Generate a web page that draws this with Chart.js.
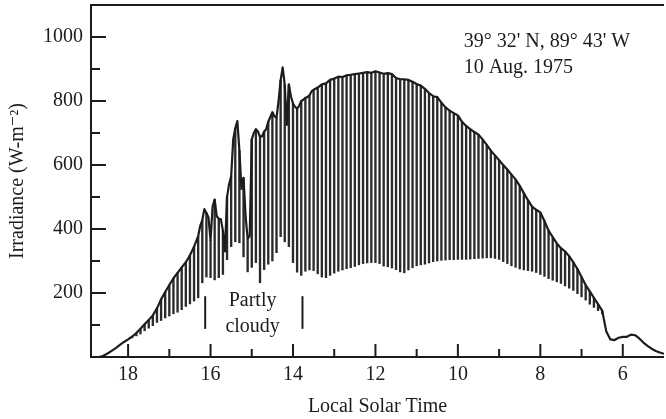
<!DOCTYPE html>
<html>
<head>
<meta charset="utf-8">
<script src="https://cdn.jsdelivr.net/npm/chart.js@4.4.1/dist/chart.umd.min.js"></script>
<style>
  html, body { margin: 0; padding: 0; background: #fff; }
</style>
</head>
<body>
<canvas id="irradiance" width="666" height="419"></canvas>
<script>
// upper envelope of the record (local solar time, W/m2), finer steps in the cloudy part
const envTime = [
  18.7, 18.6, 18.5, 18.4, 18.3, 18.2, 18.1, 18.0, 17.9, 17.8,
  17.7, 17.6, 17.5, 17.4, 17.3, 17.2, 17.1, 17.0, 16.9, 16.8,
  16.7, 16.6, 16.5, 16.4, 16.3, 16.25, 16.2, 16.15, 16.1, 16.05,
  16.0, 15.95, 15.9, 15.85, 15.8, 15.75, 15.7, 15.65, 15.6, 15.55,
  15.5, 15.45, 15.4, 15.35, 15.3, 15.25, 15.2, 15.15, 15.1, 15.05,
  15.0, 14.95, 14.9, 14.85, 14.8, 14.75, 14.7, 14.65, 14.6, 14.55,
  14.5, 14.45, 14.4, 14.35, 14.3, 14.25, 14.2, 14.15, 14.1, 14.05,
  14.0, 13.95, 13.9, 13.85, 13.8, 13.75, 13.7, 13.65, 13.6, 13.55,
  13.5, 13.4, 13.3, 13.2, 13.1, 13.0, 12.9, 12.8, 12.7, 12.6,
  12.5, 12.4, 12.3, 12.2, 12.1, 12.0, 11.9, 11.8, 11.7, 11.6,
  11.5, 11.4, 11.3, 11.2, 11.1, 11.0, 10.9, 10.8, 10.7, 10.6,
  10.5, 10.4, 10.3, 10.2, 10.1, 10.0, 9.9, 9.8, 9.7, 9.6,
  9.5, 9.4, 9.3, 9.2, 9.1, 9.0, 8.9, 8.8, 8.7, 8.6,
  8.5, 8.4, 8.3, 8.2, 8.1, 8.0, 7.9, 7.8, 7.7, 7.6,
  7.5, 7.4, 7.3, 7.2, 7.1, 7.0, 6.9, 6.8, 6.7, 6.6,
  6.5, 6.4, 6.3, 6.2, 6.1, 6.0, 5.9, 5.8, 5.7, 5.6,
  5.5, 5.4, 5.3, 5.2, 5.1, 5.0
];
const envHigh = [
  0, 4, 11, 19, 28, 38, 47, 55, 64, 75,
  88, 102, 116, 130, 152, 180, 203, 225, 246, 263,
  280, 296, 318, 345, 378, 410, 428, 462, 450, 436,
  365, 470, 492, 440, 432, 430, 395, 330, 500, 540,
  565, 680, 715, 737, 645, 525, 560, 440, 370, 378,
  680, 700, 712, 705, 688, 690, 705, 712, 735, 750,
  765, 752, 748, 800, 865, 905, 850, 725, 852, 815,
  792, 782, 776, 785, 800, 804, 810, 812, 818, 830,
  835, 842, 852, 855, 866, 870, 876, 875, 880, 882,
  884, 886, 888, 890, 888, 893, 889, 885, 887, 884,
  872, 868, 868, 866, 860, 853, 848, 838, 825, 815,
  812, 795, 780, 770, 762, 755, 735, 722, 712, 703,
  695, 680, 663, 645, 630, 615, 600, 586, 570, 555,
  535, 512, 490, 470, 460, 452, 425, 395, 375, 355,
  340, 330, 315, 296, 275, 250, 225, 205, 185, 165,
  145, 80, 55, 53, 60, 63, 63, 70, 68, 58,
  45, 35, 26, 19, 14, 10
];

// hatch strokes: bottom end of each trace line
const hatchTime = [
  17.9, 17.8, 17.7, 17.6, 17.5, 17.4, 17.3, 17.2, 17.1, 17.0,
  16.9, 16.8, 16.7, 16.6, 16.5, 16.4, 16.3, 16.2, 16.1, 16.0,
  15.9, 15.8, 15.7, 15.6, 15.5, 15.4, 15.3, 15.2, 15.1, 15.0,
  14.9, 14.8, 14.7, 14.6, 14.5, 14.4, 14.3, 14.2, 14.1, 14.0,
  13.9, 13.8, 13.7, 13.6, 13.5, 13.4, 13.3, 13.2, 13.1, 13.0,
  12.9, 12.8, 12.7, 12.6, 12.5, 12.4, 12.3, 12.2, 12.1, 12.0,
  11.9, 11.8, 11.7, 11.6, 11.5, 11.4, 11.3, 11.2, 11.1, 11.0,
  10.9, 10.8, 10.7, 10.6, 10.5, 10.4, 10.3, 10.2, 10.1, 10.0,
  9.9, 9.8, 9.7, 9.6, 9.5, 9.4, 9.3, 9.2, 9.1, 9.0,
  8.9, 8.8, 8.7, 8.6, 8.5, 8.4, 8.3, 8.2, 8.1, 8.0,
  7.9, 7.8, 7.7, 7.6, 7.5, 7.4, 7.3, 7.2, 7.1, 7.0,
  6.9, 6.8, 6.7, 6.6, 6.5
];
const hatchLow = [
  60, 66, 72, 82, 90, 98, 108, 114, 122, 128,
  135, 140, 148, 158, 166, 175, 185, 232, 250, 248,
  241, 248, 258, 304, 345, 360, 357, 313, 266, 280,
  295, 232, 273, 290, 300, 326, 376, 360, 345, 295,
  265, 255, 268, 272, 270, 260, 250, 248, 255, 262,
  268, 272, 276, 279, 283, 288, 292, 294, 295, 295,
  292, 284, 282, 278, 273, 266, 263, 272, 279, 285,
  288, 290, 294, 298, 300, 302, 303, 304, 304, 305,
  305, 305, 306, 307, 308, 309, 310, 310, 308, 305,
  298, 292, 285, 280, 275, 272, 270, 268, 264, 258,
  252, 245, 240, 235, 230, 222, 215, 208, 198, 188,
  178, 165, 155, 145, 135
];

// the two bars that bracket the "Partly cloudy" note
const cloudMarkTime = [16.13, 13.77];
const cloudMarkRange = [88, 190];

const xTickLabels = [18, 16, 14, 12, 10, 8, 6];
const yTickLabels = [200, 400, 600, 800, 1000];

const inkColor = '#1c1c1c';
const serif = '"Liberation Serif", "DejaVu Serif", serif';

Chart.defaults.font.family = serif;
Chart.defaults.font.size = 20;
Chart.defaults.color = inkColor;

const hatchData = hatchTime.map((t, i) => {
    const k = envTime.findIndex(e => Math.abs(e - t) < 1e-6);
    return { x: t, y: [hatchLow[i], envHigh[k]] };
});
const envData = envTime.map((t, i) => ({ x: t, y: envHigh[i] }));
const markSets = cloudMarkTime.map(t => ({
    type: 'line',
    data: cloudMarkRange.map(v => ({ x: t, y: v })),
    borderColor: inkColor,
    borderWidth: 2,
    pointRadius: 0,
    order: 0
}));

// frame, inward ticks and the text notes
const framePlugin = {
    id: 'frame',
    afterDraw(chart) {
        const { ctx, chartArea: area, scales: { x, y } } = chart;
        ctx.save();
        ctx.strokeStyle = inkColor;
        ctx.lineWidth = 2;
        ctx.beginPath();
        ctx.moveTo(area.right, area.top);
        ctx.lineTo(area.left, area.top);
        ctx.lineTo(area.left, area.bottom);
        ctx.lineTo(area.right, area.bottom);
        x.ticks.forEach(t => {
            if (t.value < 6 || t.value > 18) return;
            const px = x.getPixelForValue(t.value);
            const len = t.value % 2 === 0 ? 13 : 8;
            ctx.moveTo(px, area.bottom);
            ctx.lineTo(px, area.bottom - len);
        });
        y.ticks.forEach(t => {
            if (t.value <= 0 || t.value >= 1100) return;
            const py = y.getPixelForValue(t.value);
            const len = t.value % 200 === 0 ? 15 : 9;
            ctx.moveTo(area.left, py);
            ctx.lineTo(area.left + len, py);
        });
        ctx.stroke();

        ctx.fillStyle = inkColor;
        ctx.font = '20px ' + serif;
        ctx.textBaseline = 'alphabetic';
        ctx.textAlign = 'left';
        ctx.fillText("39° 32' N, 89° 43' W", x.getPixelForValue(9.86), y.getPixelForValue(968));
        ctx.fillText('10 Aug. 1975', x.getPixelForValue(9.86), y.getPixelForValue(887));
        ctx.textAlign = 'center';
        ctx.fillText('Partly', x.getPixelForValue(14.98), y.getPixelForValue(160));
        ctx.fillText('cloudy', x.getPixelForValue(14.98), y.getPixelForValue(78));
        ctx.restore();
    }
};

new Chart(document.getElementById('irradiance').getContext('2d'), {
    type: 'bar',
    data: {
        datasets: [
            {
                type: 'line',
                data: envData,
                borderColor: inkColor,
                borderWidth: 2.2,
                borderJoinStyle: 'round',
                pointRadius: 0,
                tension: 0,
                order: 0
            },
            ...markSets,
            {
                type: 'bar',
                data: hatchData,
                backgroundColor: '#2a2a2a',
                borderWidth: 0,
                barThickness: 1.7,
                order: 1
            }
        ]
    },
    options: {
        responsive: false,
        animation: false,
        layout: { padding: { top: 5, right: 2, left: 0, bottom: 0 } },
        plugins: { legend: { display: false }, tooltip: { enabled: false } },
        scales: {
            x: {
                type: 'linear',
                reverse: true,
                min: 5,
                max: 18.9,
                offset: false,
                grid: { display: false, drawTicks: false },
                border: { display: false },
                ticks: {
                    stepSize: 1,
                    includeBounds: false,
                    autoSkip: false,
                    maxRotation: 0,
                    padding: 6,
                    callback: v => xTickLabels.includes(v) ? String(v) : ''
                },
                title: {
                    display: true,
                    text: 'Local Solar Time',
                    padding: { top: 0, bottom: 0 },
                    font: { size: 20, lineHeight: 1.2 }
                },
                afterFit: s => {
                    s.height = 62;
                    s.paddingLeft = 0;
                    s.paddingRight = 0;
                }
            },
            y: {
                min: 0,
                max: 1100,
                grid: { display: false, drawTicks: false },
                border: { display: false },
                ticks: {
                    stepSize: 100,
                    autoSkip: false,
                    padding: 8,
                    callback: v => yTickLabels.includes(v) ? String(v) : ''
                },
                title: {
                    display: true,
                    text: 'Irradiance (W-m⁻²)',
                    padding: { top: 6, bottom: 0 },
                    font: { size: 20, lineHeight: 1.2 }
                },
                afterFit: s => {
                    s.width = 91;
                    s.paddingTop = 0;
                    s.paddingBottom = 0;
                }
            }
        }
    },
    plugins: [framePlugin]
});
</script>
</body>
</html>
